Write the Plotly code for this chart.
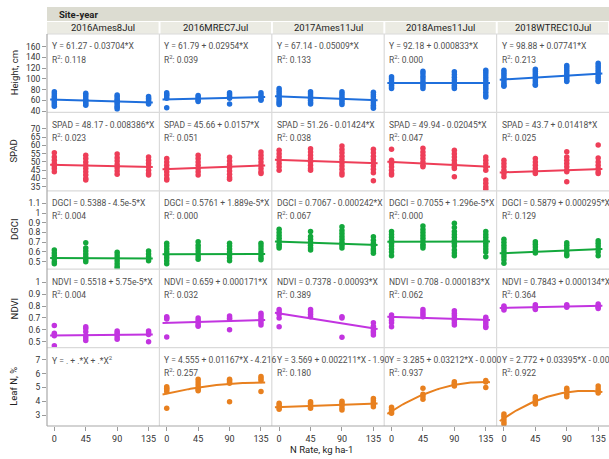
import numpy as np
import plotly.graph_objects as go
from plotly.subplots import make_subplots

# ---------------------------------------------------------------- data
sites = ["2016Ames8Jul", "2016MREC7Jul", "2017Ames11Jul", "2018Ames11Jul", "2018WTREC10Jul"]
n_rates = [0, 45, 90, 135]

# observations per site, grouped by N rate (0, 45, 90, 135)
height_obs = [
    [[76, 72, 68, 65, 62, 59, 56, 52, 49], [73, 70, 66, 62, 59, 56, 53, 51],
     [70, 67, 63, 60, 57, 54, 50, 47, 44], [67, 64, 61, 58, 55, 53]],
    [[74, 71, 68, 64, 46], [69, 66, 63, 60, 58], [74, 71, 67, 64, 53], [74, 70, 66, 62, 60]],
    [[82, 78, 74, 70, 66, 62, 58, 55, 52], [76, 72, 68, 64, 60, 56, 53],
     [76, 72, 68, 64, 60, 56, 52], [75, 71, 67, 63, 59, 55, 51, 48, 45]],
    [[104, 100, 96, 92, 88, 85, 82], [114, 110, 105, 100, 95, 90, 86, 82],
     [113, 108, 103, 98, 93, 88, 85, 82], [116, 112, 107, 102, 97, 92, 88, 84, 80, 75, 70, 66]],
    [[116, 112, 108, 104, 100, 96, 92, 88, 86], [118, 114, 110, 106, 102, 98, 94, 90, 88],
     [125, 121, 117, 113, 109, 105, 101, 97, 95], [129, 125, 121, 117, 113, 109, 105, 101, 97, 95]],
]
spad_obs = [
    [[55.6, 53, 51, 49, 47.5, 46, 44], [54, 52, 50, 48, 46, 44, 42, 40, 39],
     [54.8, 52.5, 50.5, 48.5, 46.5, 44.5, 42.5], [53, 51, 49, 47, 45, 43, 42]],
    [[52, 50, 48, 46, 44, 42, 40, 39], [54, 52, 50, 48, 46, 44, 42],
     [52.8, 50.5, 48.5, 46.5, 44.5, 42.5, 40.5, 39.5], [56, 54, 52, 50, 48, 46, 44, 43]],
    [[57, 55, 53, 51, 49, 47, 45], [58, 56, 54, 52, 50, 48, 46, 45],
     [59.7, 57.5, 55.5, 53.5, 51.5, 49.5, 47.5, 45.5, 43.5, 42],
     [57.7, 55.5, 53.5, 51.5, 49.5, 47.5, 45.5, 43.5, 38.6]],
    [[57.7, 51, 49, 47, 45, 43, 42], [58.3, 56, 54, 52, 50, 48, 47],
     [57, 55, 53, 51, 49, 47, 46, 41], [53, 51, 49, 47, 45, 39, 37, 35, 33.5]],
    [[51, 49, 47, 45, 43, 41], [52, 50, 48, 46, 44, 43],
     [56.2, 53, 51, 49, 47, 45, 44, 38], [60.3, 52.4, 50, 48, 46, 44, 43]],
]
dgci_obs = [
    [[0.62, 0.59, 0.56, 0.53, 0.50, 0.48], [0.695, 0.64, 0.61, 0.58, 0.55, 0.52, 0.50],
     [0.597, 0.57, 0.54, 0.51, 0.48, 0.45, 0.43], [0.61, 0.58, 0.55, 0.53, 0.51]],
    [[0.69, 0.66, 0.63, 0.60, 0.57, 0.54, 0.51, 0.48], [0.705, 0.67, 0.64, 0.61, 0.58, 0.55, 0.525],
     [0.69, 0.66, 0.63, 0.60, 0.57, 0.54, 0.51], [0.69, 0.66, 0.63, 0.60, 0.57, 0.54, 0.52]],
    [[0.833, 0.80, 0.77, 0.74, 0.71, 0.68, 0.66, 0.64], [0.81, 0.76, 0.73, 0.70, 0.67, 0.64, 0.62],
     [0.86, 0.82, 0.79, 0.76, 0.73, 0.70, 0.67, 0.64], [0.757, 0.72, 0.69, 0.66, 0.63, 0.61, 0.586]],
    [[0.81, 0.78, 0.75, 0.72, 0.69, 0.66, 0.63, 0.60, 0.56],
     [0.867, 0.83, 0.80, 0.77, 0.74, 0.71, 0.68, 0.66, 0.64],
     [0.895, 0.85, 0.81, 0.78, 0.75, 0.72, 0.69, 0.66, 0.62, 0.59, 0.56],
     [0.81, 0.78, 0.75, 0.72, 0.69, 0.66, 0.63, 0.60, 0.55]],
    [[0.73, 0.70, 0.67, 0.64, 0.61, 0.58, 0.55, 0.52, 0.484], [0.705, 0.68, 0.65, 0.62, 0.59],
     [0.695, 0.67, 0.64, 0.61, 0.58, 0.56], [0.716, 0.69, 0.66, 0.63, 0.60, 0.56]],
]
ndvi_obs = [
    [[0.635, 0.57, 0.56, 0.55, 0.466], [0.626, 0.61, 0.584, 0.55, 0.53, 0.51],
     [0.59, 0.575, 0.56, 0.54, 0.52], [0.59, 0.575, 0.56, 0.50]],
    [[0.71, 0.70, 0.69, 0.54], [0.70, 0.68, 0.66, 0.64, 0.63],
     [0.716, 0.70, 0.69, 0.60], [0.74, 0.72, 0.70, 0.68, 0.66, 0.64]],
    [[0.77, 0.75, 0.73, 0.70, 0.626], [0.77, 0.75, 0.73, 0.71],
     [0.71, 0.70, 0.537], [0.66, 0.63, 0.61, 0.59, 0.575, 0.556]],
    [[0.725, 0.70, 0.68, 0.66, 0.626], [0.77, 0.75, 0.73, 0.71],
     [0.76, 0.74, 0.72, 0.70, 0.68, 0.66, 0.64], [0.705, 0.69, 0.67, 0.65, 0.63, 0.62]],
    [[0.80, 0.79, 0.78, 0.767], [0.81, 0.795, 0.78, 0.77],
     [0.81, 0.80, 0.79], [0.817, 0.80, 0.79, 0.78]],
]
leafn_obs = [
    [[], [], [], []],
    [[5.06, 4.95, 4.85, 4.7, 3.49], [5.6, 5.4, 5.2, 5.0, 4.85, 4.77],
     [5.6, 5.5, 5.4, 5.3, 3.97], [5.79, 5.65, 5.5, 4.7]],
    [[3.85, 3.7, 3.55, 3.41], [3.97, 3.85, 3.7, 3.6, 3.49],
     [4.0, 3.85, 3.7, 3.5, 3.36], [4.2, 4.05, 3.9, 3.75, 3.6]],
    [[3.56, 3.4, 3.25, 3.12], [4.94, 4.5, 4.35, 4.14], [5.42, 5.3, 5.2, 5.1], [5.5, 5.4, 5.0]],
    [[3.07, 2.9, 2.7, 2.5, 2.35], [4.33, 4.2, 4.05, 3.9, 3.8],
     [4.94, 4.8, 4.5, 4.33], [5.1, 4.9, 4.75, 4.6]],
]

# fitted coefficients (intercept, slope[, quadratic]) and R^2 per site
height_fit = [("61.27", "-0.03704"), ("61.79", "0.02954"), ("67.14", "-0.05009"),
              ("92.18", "0.000833"), ("98.88", "0.07741")]
height_r2 = ["0.118", "0.039", "0.133", "0.000", "0.213"]
spad_fit = [("48.17", "-0.008386"), ("45.66", "0.0157"), ("51.26", "-0.01424"),
            ("49.94", "-0.02045"), ("43.7", "0.01418")]
spad_r2 = ["0.023", "0.051", "0.038", "0.047", "0.025"]
dgci_fit = [("0.5388", "-4.5e-5"), ("0.5761", "1.889e-5"), ("0.7067", "-0.000242"),
            ("0.7055", "1.296e-5"), ("0.5879", "0.000295")]
dgci_r2 = ["0.004", "0.000", "0.067", "0.000", "0.129"]
ndvi_fit = [("0.5518", "5.75e-5"), ("0.659", "0.000171"), ("0.7378", "-0.00093"),
            ("0.708", "-0.000183"), ("0.7843", "0.000134")]
ndvi_r2 = ["0.004", "0.032", "0.389", "0.062", "0.364"]
leafn_fit = [None, ("4.555", "0.01167", "-4.216e-5"), ("3.569", "0.002211", "-1.904e-6"),
             ("3.285", "0.03212", "-0.000122"), ("2.772", "0.03395", "-0.000145")]
leafn_r2 = [None, "0.257", "0.180", "0.937", "0.922"]

# ---------------------------------------------------------------- row setup
rows = [
    dict(title="Height, cm", lhs="Y", obs=height_obs, fit=height_fit, r2=height_r2,
         color="#1f6fdc", yrange=[37.5, 183.5], ticks=[40, 60, 80, 100, 120, 140, 160]),
    dict(title="SPAD", lhs="SPAD", obs=spad_obs, fit=spad_fit, r2=spad_r2,
         color="#ee3e58", yrange=[32.5, 80], ticks=[35, 40, 45, 50, 55, 60, 65, 70]),
    dict(title="DGCI", lhs="DGCI", obs=dgci_obs, fit=dgci_fit, r2=dgci_r2,
         color="#13a83c", yrange=[0.423, 1.228], ticks=[0.5, 0.6, 0.7, 0.8, 0.9, 1, 1.1]),
    dict(title="NDVI", lhs="NDVI", obs=ndvi_obs, fit=ndvi_fit, r2=ndvi_r2,
         color="#c234e0", yrange=[0.45, 1.11], ticks=[0.5, 0.6, 0.7, 0.8, 0.9, 1]),
    dict(title="Leaf N, %", lhs="Y", obs=leafn_obs, fit=leafn_fit, r2=leafn_r2,
         color="#e8801f", yrange=[2.2, 7.9], ticks=[3, 4, 5, 6, 7]),
]

W, H = 609, 459
ML, MR, MT, MB = 47, 0, 34, 33
PW, PH = W - ML - MR, H - MT - MB
NR, NC = 5, 5
FONT = "Roboto, Noto Sans, sans-serif"
TXT = "#505050"
XR = [-10.5, 150.5]
MAX_CHARS = 29   # equations longer than the panel are cut at its right edge


def px_to_paper_x(px):
    return (px - ML) / PW


def px_to_paper_y(py):
    return (H - MB - py) / PH


def sign_term(s):
    return ("- " + s[1:]) if s.startswith("-") else ("+ " + s)


fig = make_subplots(rows=NR, cols=NC, horizontal_spacing=0, vertical_spacing=0)

annotations = []
shapes = []
xs_line = np.linspace(-6, 141, 60)

for r, row in enumerate(rows):
    for c in range(NC):
        # scatter observations (an empty trace still keeps the panel's axes)
        xs, ys = [], []
        for rate, vals in zip(n_rates, row["obs"][c]):
            xs += [rate] * len(vals)
            ys += vals
        fig.add_trace(go.Scatter(x=xs, y=ys, mode="markers",
                                 marker=dict(color=row["color"], size=5.5),
                                 showlegend=False, hoverinfo="skip"),
                      row=r + 1, col=c + 1)
        fit = row["fit"][c]
        top_px = MT + r * PH / NR
        left_px = ML + c * PW / NC
        if fit is not None:
            coef = [float(v) for v in fit]
            yfit = sum(k * xs_line ** i for i, k in enumerate(coef))
            fig.add_trace(go.Scatter(x=xs_line, y=yfit, mode="lines",
                                     line=dict(color=row["color"], width=2),
                                     showlegend=False, hoverinfo="skip"),
                          row=r + 1, col=c + 1)
            eq = f"{row['lhs']} = {fit[0]} {sign_term(fit[1])}*X"
            if len(fit) == 3:
                eq += f" {sign_term(fit[2])}*X<sup>2</sup>"
                eq = eq[:MAX_CHARS]
            r2txt = f"R<sup>2</sup>: {row['r2'][c]}"
        else:
            eq = "Y = . + .*X + .*X<sup>2</sup>"
            r2txt = None
        annotations.append(dict(
            x=px_to_paper_x(left_px + 3), y=px_to_paper_y(top_px + 12.5),
            xref="paper", yref="paper", xanchor="left", yanchor="middle",
            text=eq, showarrow=False, align="left",
            font=dict(family=FONT, size=8.5, color=TXT)))
        if r2txt:
            annotations.append(dict(
                x=px_to_paper_x(left_px + 3), y=px_to_paper_y(top_px + 24.5),
                xref="paper", yref="paper", xanchor="left", yanchor="middle",
                text=r2txt, showarrow=False, align="left",
                font=dict(family=FONT, size=8.5, color=TXT)))

        # axes
        fig.update_xaxes(range=XR, tickvals=n_rates, showgrid=False, zeroline=False,
                         showticklabels=(r == NR - 1), ticks="outside" if r == NR - 1 else "",
                         ticklen=4, tickcolor="#9a9a9a",
                         tickfont=dict(family=FONT, size=9, color="#333"),
                         showline=False, row=r + 1, col=c + 1)
        fig.update_yaxes(range=row["yrange"], tickvals=row["ticks"], showgrid=False,
                         zeroline=False, showticklabels=(c == 0),
                         ticks="outside" if c == 0 else "", ticklen=4, tickcolor="#9a9a9a",
                         tickfont=dict(family=FONT, size=8.5, color="#333"),
                         showline=False, row=r + 1, col=c + 1)

    # y axis title for the row
    annotations.append(dict(
        x=px_to_paper_x(14), y=px_to_paper_y(MT + (r + 0.5) * PH / NR),
        xref="paper", yref="paper", xanchor="center", yanchor="middle",
        text=row["title"], textangle=-90, showarrow=False,
        font=dict(family=FONT, size=9.5, color="#222")))

# panel dividers
for k in range(1, NC):
    shapes.append(dict(type="line", xref="paper", yref="paper", x0=k / NC, x1=k / NC,
                       y0=0, y1=1, line=dict(color="#dadada", width=1.2)))
for k in range(1, NR):
    shapes.append(dict(type="line", xref="paper", yref="paper", x0=0, x1=1,
                       y0=k / NR, y1=k / NR, line=dict(color="#dadada", width=1.2)))
shapes.append(dict(type="line", xref="paper", yref="paper", x0=0, x1=1, y0=1, y1=1,
                   line=dict(color="#dadada", width=1)))
# outer axis frame (left and bottom)
shapes.append(dict(type="line", xref="paper", yref="paper", x0=0, x1=0, y0=0, y1=1,
                   line=dict(color="#a8a8a8", width=1.2)))
shapes.append(dict(type="line", xref="paper", yref="paper", x0=0, x1=1, y0=0, y1=0,
                   line=dict(color="#a8a8a8", width=1.2)))

# header bands: "Site-year" over site labels
shapes.append(dict(type="rect", xref="paper", yref="paper", x0=0, x1=1,
                   y0=px_to_paper_y(21), y1=px_to_paper_y(7),
                   fillcolor="#dcdcd1", line=dict(width=0), layer="below"))
annotations.append(dict(x=px_to_paper_x(57), y=px_to_paper_y(14), xref="paper", yref="paper",
                        xanchor="left", yanchor="middle", text="<b>Site-year</b>",
                        showarrow=False, font=dict(family=FONT, size=9.5, color="#222")))
for c, name in enumerate(sites):
    shapes.append(dict(type="rect", xref="paper", yref="paper",
                       x0=c / NC + (0.002 if c > 0 else 0), x1=(c + 1) / NC - 0.0015,
                       y0=px_to_paper_y(34), y1=px_to_paper_y(22),
                       fillcolor="#ebebe3", line=dict(width=0), layer="below"))
    annotations.append(dict(x=(c + 0.5) / NC, y=px_to_paper_y(28), xref="paper", yref="paper",
                            xanchor="center", yanchor="middle", text=name, showarrow=False,
                            font=dict(family=FONT, size=9.5, color="#222")))

# x axis title
annotations.append(dict(x=px_to_paper_x(321), y=px_to_paper_y(449), xref="paper", yref="paper",
                        xanchor="center", yanchor="middle", text="N Rate, kg ha-1",
                        showarrow=False, font=dict(family=FONT, size=9.5, color="#222")))

fig.update_layout(width=W, height=H, margin=dict(l=ML, r=MR, t=MT, b=MB),
                  paper_bgcolor="white", plot_bgcolor="white",
                  annotations=annotations, shapes=shapes, showlegend=False)

fig.write_html("out.html")
